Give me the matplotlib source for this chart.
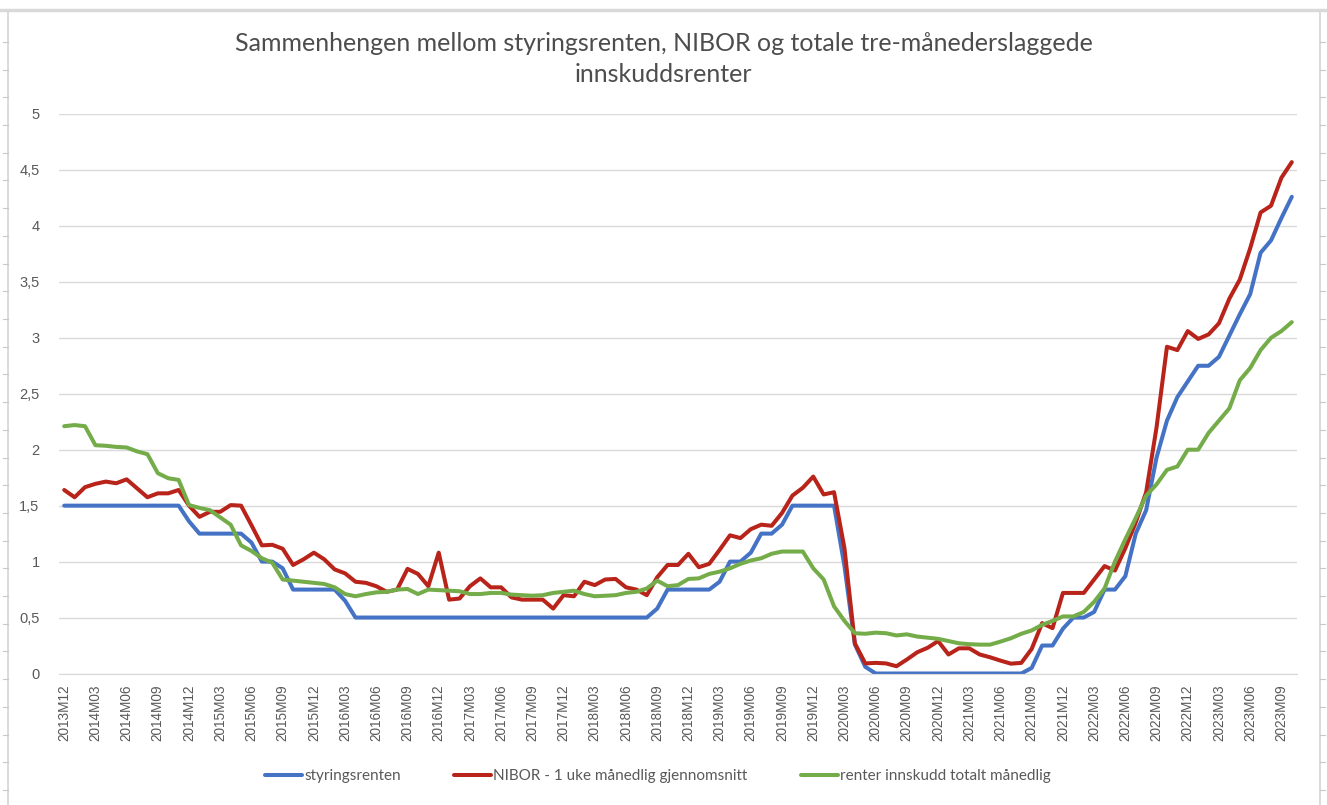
import matplotlib
matplotlib.use('Agg')
import matplotlib.pyplot as plt
import numpy as np
import pandas as pd

# monthly categories 2013M12 .. 2023M10
months = [f"{p.year}M{p.month:02d}" for p in pd.period_range('2013-12', '2023-10', freq='M')]

styringsrenten = [
    1.5, 1.5, 1.5, 1.5, 1.5, 1.5, 1.5, 1.5, 1.5, 1.5, 1.5, 1.5,
    1.36, 1.25, 1.25, 1.25, 1.25, 1.25, 1.17, 1.0, 1.0, 0.94,
    0.75, 0.75, 0.75, 0.75, 0.75, 0.65,
    0.5, 0.5, 0.5, 0.5, 0.5, 0.5, 0.5, 0.5, 0.5, 0.5, 0.5, 0.5, 0.5, 0.5, 0.5,
    0.5, 0.5, 0.5, 0.5, 0.5, 0.5, 0.5, 0.5, 0.5, 0.5, 0.5, 0.5, 0.5, 0.5,
    0.58, 0.75, 0.75, 0.75, 0.75, 0.75, 0.82, 1.0, 1.0, 1.08, 1.25, 1.25, 1.33,
    1.5, 1.5, 1.5, 1.5, 1.5, 0.96, 0.26, 0.06,
    0.0, 0.0, 0.0, 0.0, 0.0, 0.0, 0.0, 0.0, 0.0, 0.0, 0.0, 0.0, 0.0, 0.0, 0.0,
    0.05, 0.25, 0.25, 0.4, 0.5, 0.5, 0.55, 0.75, 0.75, 0.87, 1.25, 1.46, 1.93,
    2.26, 2.47, 2.61, 2.75, 2.75, 2.83, 3.02, 3.21, 3.39, 3.76, 3.87, 4.07, 4.26,
]

nibor = [
    1.64, 1.575, 1.665, 1.695, 1.715, 1.70, 1.735, 1.655, 1.575, 1.61, 1.61, 1.64,
    1.50, 1.40, 1.445, 1.445, 1.505, 1.50, 1.325, 1.145, 1.15, 1.115, 0.97, 1.02,
    1.08, 1.02, 0.93, 0.895, 0.82, 0.81, 0.78, 0.73, 0.75, 0.935, 0.89, 0.78,
    1.08, 0.66, 0.67, 0.78, 0.85, 0.77, 0.77, 0.68, 0.66, 0.66, 0.66, 0.58,
    0.70, 0.69, 0.82, 0.79, 0.84, 0.845, 0.77, 0.75, 0.70, 0.86, 0.97, 0.97,
    1.07, 0.95, 0.98, 1.105, 1.235, 1.21, 1.29, 1.33, 1.32, 1.435, 1.59, 1.66,
    1.76, 1.60, 1.62, 1.12, 0.27, 0.09, 0.095, 0.09, 0.065, 0.125, 0.19, 0.23,
    0.29, 0.17, 0.225, 0.225, 0.17, 0.145, 0.115, 0.088, 0.095, 0.22, 0.45, 0.405,
    0.72, 0.72, 0.72, 0.84, 0.96, 0.92, 1.12, 1.35, 1.62, 2.2, 2.92, 2.89,
    3.06, 2.99, 3.03, 3.13, 3.35, 3.52, 3.80, 4.12, 4.18, 4.43, 4.57,
]

innskudd = [
    2.21, 2.22, 2.21, 2.04, 2.035, 2.025, 2.02, 1.985, 1.96, 1.79, 1.745, 1.73,
    1.505, 1.48, 1.46, 1.395, 1.33, 1.145, 1.095, 1.03, 0.99, 0.84, 0.83, 0.82,
    0.81, 0.80, 0.77, 0.71, 0.69, 0.71, 0.725, 0.73, 0.75, 0.755, 0.71, 0.75,
    0.745, 0.74, 0.735, 0.71, 0.71, 0.72, 0.72, 0.705, 0.70, 0.695, 0.70, 0.72,
    0.73, 0.74, 0.71, 0.69, 0.695, 0.70, 0.72, 0.73, 0.76, 0.83, 0.78, 0.79,
    0.845, 0.85, 0.89, 0.91, 0.94, 0.98, 1.01, 1.03, 1.07, 1.09, 1.09, 1.09,
    0.94, 0.84, 0.60, 0.47, 0.36, 0.355, 0.365, 0.36, 0.34, 0.35, 0.33, 0.32,
    0.31, 0.29, 0.27, 0.262, 0.258, 0.258, 0.285, 0.315, 0.355, 0.385, 0.435, 0.47,
    0.51, 0.51, 0.55, 0.64, 0.76, 1.0, 1.2, 1.39, 1.59, 1.69, 1.82, 1.85,
    2.0, 2.0, 2.15, 2.26, 2.37, 2.62, 2.73, 2.89, 3.0, 3.06, 3.14,
]

series_names = ['styringsrenten', 'NIBOR - 1 uke månedlig gjennomsnitt', 'renter innskudd totalt månedlig']
colors = ['#4472C4', '#B8231A', '#75AC4A']
yticks = [0, 0.5, 1, 1.5, 2, 2.5, 3, 3.5, 4, 4.5, 5]
ytick_labels = ['0', '0,5', '1', '1,5', '2', '2,5', '3', '3,5', '4', '4,5', '5']

grey_text = '#595959'
W, H = 1327, 805
fig = plt.figure(figsize=(W / 100, H / 100), dpi=100)

# outer frame of the pasted chart
frame = fig.add_axes([0, 0, 1, 1])
frame.set_xlim(0, W)
frame.set_ylim(H, 0)
frame.axis('off')
frame.plot([8, 8], [10, 805], color='#d4d4d4', lw=1.2)
frame.plot([1320, 1320], [10, 805], color='#d4d4d4', lw=1.2)
frame.plot([0, W], [10, 10], color='#d9d9d9', lw=2.5)
for yy in np.arange(42, 800, 27.7):
    frame.plot([3, 8], [yy, yy], color='#c8c8c8', lw=0.8)
    frame.plot([1320, 1325], [yy, yy], color='#c8c8c8', lw=0.8)

left, right, top, bottom = 59, 1297, 114, 673.5
ax = fig.add_axes([left / W, 1 - bottom / H, (right - left) / W, (bottom - top) / H])

x = np.arange(len(months))
for vals, name, c in zip([styringsrenten, nibor, innskudd], series_names, colors):
    ax.plot(x, vals, color=c, lw=2.9, label=name, solid_joinstyle='round', solid_capstyle='round')

ax.set_xlim(-0.5, len(months) - 0.5)
ax.set_ylim(0, 5)
ax.set_yticks(yticks, ytick_labels)
ax.set_xticks(x[::3], months[::3], rotation=90)
ax.grid(axis='y', color='#d9d9d9', lw=1)
ax.set_axisbelow(True)
for s in ['top', 'right', 'left']:
    ax.spines[s].set_visible(False)
ax.spines['bottom'].set_color('#d9d9d9')
ax.tick_params(axis='both', length=0, colors=grey_text)
ax.tick_params(axis='y', pad=14, labelsize=10.5)
ax.tick_params(axis='x', pad=8, labelsize=9.8)
for t in ax.get_xticklabels() + ax.get_yticklabels():
    t.set_fontfamily('Liberation Sans')

fig.text(0.5, 1 - 59 / H, 'Sammenhengen mellom styringsrenten, NIBOR og totale tre-månederslaggede\ninnskuddsrenter',
         ha='center', va='center', fontsize=18, color='#4d4d4d', family='Lato', linespacing=1.42)

fig.legend(loc='center', bbox_to_anchor=(658 / W, 1 - 776 / H), ncol=3, frameon=False,
           prop={'family': 'Lato', 'size': 11}, labelcolor=grey_text,
           handlelength=2.4, handletextpad=0.15, columnspacing=3.5)

fig.savefig('out.png', dpi=100)
